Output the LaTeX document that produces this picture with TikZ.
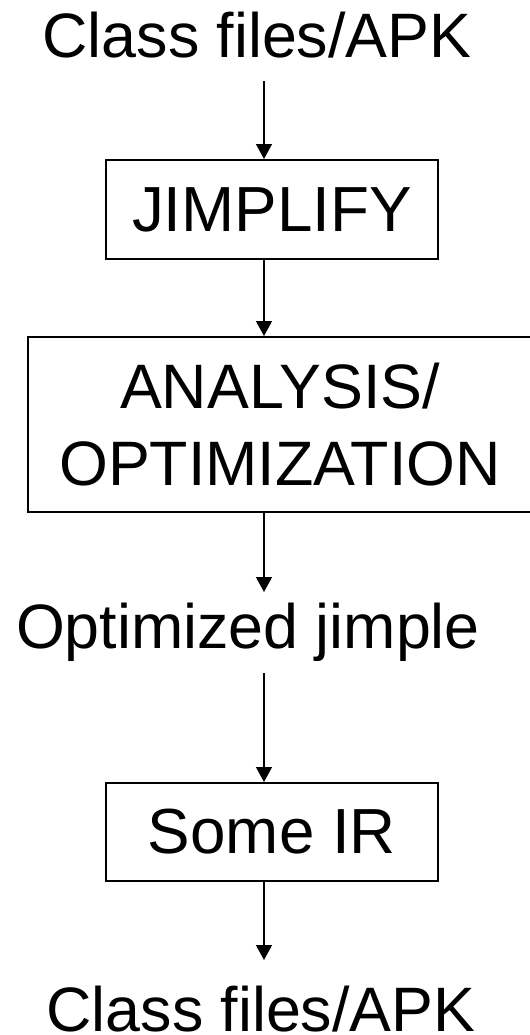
\documentclass[tikz,border=0pt]{standalone}
\usepackage{fontspec}
\setmainfont{Liberation Sans}
\usetikzlibrary{arrows.meta}

\tikzset{
  label text/.style={inner sep=0pt, font=\fontsize{63}{75}\selectfont, anchor=base},
  stagebox/.style={draw, line width=2bp, inner sep=0pt,
    font=\fontsize{64}{78}\selectfont, align=center},
  flow/.style={line width=1.3bp, -{Triangle[width=16bp,length=15bp]}}
}

\begin{document}
\begin{tikzpicture}[x=1bp, y=-1bp]
  \useasboundingbox (0,0) rectangle (530,1035);
  \clip (0,0) rectangle (530,1035);

  % arrow axis
  \coordinate (ax) at (264,0);

  % input
  \node[label text] (src) at (257,57) {Class files/APK};

  % stages
  \node[stagebox, minimum width=332bp, minimum height=99bp] (jimp) at (272,209.5) {JIMPLIFY};
  \node[stagebox, minimum width=504bp, minimum height=175bp,
        font=\fontsize{63}{78}\selectfont] (anal) at (280,424.5) {ANALYSIS/\\OPTIMIZATION};

  % intermediate result
  \node[label text] (opt) at (248,648) {Optimized jimple};

  \node[stagebox, minimum width=332bp, minimum height=98bp] (ir) at (272,832) {Some IR};

  % output
  \node[label text] (dst) at (261,1031) {Class files/APK};

  % connectors
  \draw[flow] ([yshift=-24bp]src.base -| ax) -- (jimp.north -| ax);
  \draw[flow] (jimp.south -| ax) -- (anal.north -| ax);
  \draw[flow] (anal.south -| ax) -- ([yshift=56bp]opt.base -| ax);
  \draw[flow] ([yshift=-25bp]opt.base -| ax) -- (ir.north -| ax);
  \draw[flow] (ir.south -| ax) -- ([yshift=71bp]dst.base -| ax);
\end{tikzpicture}
\end{document}
